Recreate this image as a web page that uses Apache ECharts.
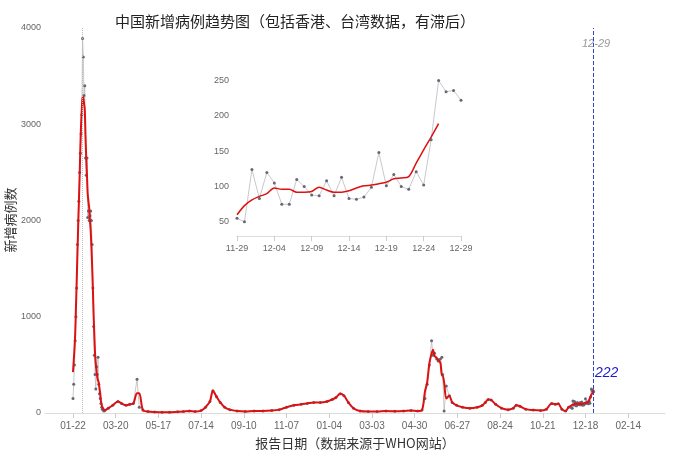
<!DOCTYPE html>
<html><head><meta charset="utf-8">
<script src="https://cdn.jsdelivr.net/npm/echarts@6/dist/echarts.min.js"></script>
<style>html,body{margin:0;padding:0;background:#fff}#c{width:677px;height:451px}</style>
</head><body><div id="c"></div>
<script>
const mainDates = [
"2020-01-22","2020-01-23","2020-01-24","2020-01-25","2020-01-26","2020-01-27","2020-01-28","2020-01-29","2020-01-30","2020-01-31",
"2020-02-01","2020-02-02","2020-02-03","2020-02-04","2020-02-05","2020-02-06","2020-02-07","2020-02-08","2020-02-09","2020-02-10",
"2020-02-11","2020-02-12","2020-02-13","2020-02-14","2020-02-15","2020-02-16","2020-02-17","2020-02-18","2020-02-19","2020-02-20",
"2020-02-21","2020-02-22","2020-02-23","2020-02-24","2020-02-25","2020-02-26","2020-02-27","2020-02-28","2020-02-29","2020-03-01",
"2020-03-02","2020-03-03","2020-03-04","2020-03-05",
"2020-03-10","2020-03-16","2020-03-23","2020-03-28","2020-04-03","2020-04-08","2020-04-13","2020-04-18","2020-04-21","2020-04-26",
"2020-05-03","2020-05-12","2020-05-22","2020-06-01","2020-06-12","2020-06-20","2020-06-28","2020-07-06","2020-07-14","2020-07-20",
"2020-07-26","2020-07-30","2020-08-04","2020-08-09","2020-08-15","2020-08-22","2020-09-01","2020-09-12","2020-09-24","2020-10-06",
"2020-10-18","2020-10-28","2020-11-07","2020-11-17","2020-11-27","2020-12-05","2020-12-14","2020-12-23","2021-01-01","2021-01-08",
"2021-01-13","2021-01-19","2021-01-24","2021-01-30","2021-02-06","2021-02-15","2021-02-26","2021-03-10","2021-03-22","2021-04-03",
"2021-04-15","2021-04-25","2021-05-04","2021-05-10","2021-05-14","2021-05-17","2021-05-20","2021-05-23","2021-05-25","2021-05-27",
"2021-05-30","2021-06-01","2021-06-04","2021-06-06","2021-06-07","2021-06-09","2021-06-12","2021-06-16","2021-06-20","2021-06-26",
"2021-07-04","2021-07-14","2021-07-24","2021-07-31","2021-08-04","2021-08-08","2021-08-12","2021-08-18","2021-08-26","2021-09-04",
"2021-09-11","2021-09-15","2021-09-20","2021-09-28","2021-10-08","2021-10-18","2021-10-26","2021-11-02","2021-11-07","2021-11-11",
"2021-11-16","2021-11-21","2021-11-25"
];
const mainValues = [
150,300,500,750,1000,1300,1750,2000,2200,2500,
2700,2900,3100,3890,3700,3300,3400,2650,2470,2650,
2030,2100,2000,2050,2100,2000,1750,1300,900,600,
400,250,480,400,580,300,200,150,100,60,
40,30,20,25,
50,80,120,100,80,90,100,350,60,30,
15,10,8,8,12,15,20,15,25,60,
120,230,170,110,60,35,20,15,20,20,
25,35,60,80,90,100,110,110,120,140,
160,200,180,110,50,20,15,15,20,18,
20,25,20,30,150,300,500,750,600,620,
560,540,560,580,400,20,280,180,110,80,
60,50,60,80,110,140,135,90,50,35,
50,80,70,40,30,25,40,100,90,95,
40,20,60
];
const insetDates = ["11-29","11-30","12-01","12-02","12-03","12-04","12-05","12-06","12-07","12-08","12-09","12-10","12-11","12-12","12-13","12-14","12-15","12-16","12-17","12-18","12-19","12-20","12-21","12-22","12-23","12-24","12-25","12-26","12-27","12-28","12-29"];
const insetValues = [55,50,124,83,120,105,75,75,110,100,88,87,108,87,113,83,82,85,99,148,101,117,100,96,121,102,166,250,234,236,222];
const insetTrend = [60,73,81,86,90,98,96,96,92,92,93,99,95,92,92,94,98,101,102,104,106,111,112,114,133,152,170,189];
const xTickLabels = ["01-22","03-20","05-17","07-14","09-10","11-07","01-04","03-03","04-30","06-27","08-24","10-21","12-18","02-14"];
const lastLabel = "222";
const lastDate = "12-29";

const DAY = 86400000;
const t0 = Date.UTC(2020,0,22);
function dayOf(s){const p=s.split('-');return Math.round((Date.UTC(+p[0],+p[1]-1,+p[2])-t0)/DAY);}
const allDates = mainDates.concat(insetDates.map(d=>"2021-"+d));
const allVals = mainValues.concat(insetValues);
const days = allDates.map(dayOf);
const rawPts = days.map((d,i)=>[d,allVals[i]]);
const smooth = days.map((d,i)=>{let s=0,n=0;for(let j=0;j<days.length;j++){if(Math.abs(days[j]-d)<=3){s+=allVals[j];n++;}}return [d,s/n];});
const tickVals = xTickLabels.map((l,i)=>i*58);
const lastDay = dayOf("2021-12-29");
const peakDay = days[allVals.indexOf(Math.max(...allVals))];

const chart = echarts.init(document.getElementById('c'));
const grey = '#666';
chart.setOption({
  animation:false,
  title:{text:'中国新增病例趋势图（包括香港、台湾数据，有滞后）',left:290,top:9,textAlign:'center',
    textStyle:{fontSize:15,fontWeight:'normal',color:'#222',fontFamily:'Noto Sans CJK SC'}},
  grid:[{left:45,right:12,top:28,bottom:38,outerBoundsMode:'none',containLabel:false},
        {left:237,top:72,width:224,height:164,outerBoundsMode:'none',containLabel:false}],
  xAxis:[{type:'value',gridIndex:0,min:-38,max:804,
      axisLine:{lineStyle:{color:'#ddd'}},splitLine:{show:false},
      axisTick:{customValues:tickVals,lineStyle:{color:'#ccc'}},
      axisLabel:{customValues:tickVals,color:grey,fontSize:10,formatter:v=>xTickLabels[Math.round(v/58)]},
      name:'报告日期（数据来源于WHO网站）',nameLocation:'middle',nameGap:24,
      nameTextStyle:{fontSize:13,color:'#333',fontFamily:'Noto Sans CJK SC'}},
    {type:'category',gridIndex:1,data:insetDates,boundaryGap:false,
      axisLine:{lineStyle:{color:'#ddd'}},axisTick:{interval:4,lineStyle:{color:'#ccc'}},
      axisLabel:{interval:4,color:grey,fontSize:9}}],
  yAxis:[{type:'value',gridIndex:0,min:0,max:4000,interval:1000,splitLine:{show:false},
      axisLine:{show:false},axisTick:{show:false},axisLabel:{color:grey,fontSize:9,margin:4,formatter:v=>String(v)}},
    {type:'value',gridIndex:1,min:30,max:262,interval:10,splitLine:{show:false},
      axisLine:{lineStyle:{color:'#ddd'}},axisTick:{show:false},
      axisLabel:{color:grey,fontSize:9,formatter:v=>(v%50===0?String(v):'')}}],
  series:[
    {type:'line',xAxisIndex:0,yAxisIndex:0,data:rawPts,symbol:'circle',symbolSize:3,
      lineStyle:{color:'#bbb',width:0.8},itemStyle:{color:'#667'},z:2,
      markLine:{silent:true,symbol:'none',label:{show:false},data:[
        {xAxis:peakDay,lineStyle:{color:'#bbb',type:'dotted',width:1}},
        {xAxis:lastDay,lineStyle:{color:'#3344cc',type:'dashed',width:1}}]}},
    {type:'line',xAxisIndex:0,yAxisIndex:0,data:smooth,symbol:'none',smooth:0.3,
      lineStyle:{color:'#dd1111',width:2},z:3},
    {type:'line',xAxisIndex:1,yAxisIndex:1,data:insetValues,symbol:'circle',symbolSize:3,
      lineStyle:{color:'#bbb',width:0.8},itemStyle:{color:'#667'}},
    {type:'line',xAxisIndex:1,yAxisIndex:1,data:insetTrend,symbol:'none',smooth:0.3,
      lineStyle:{color:'#dd1111',width:1.5}}
  ],
  graphic:[
    {type:'text',x:10,y:220,rotation:Math.PI/2,style:{text:'新增病例数',fill:'#333',fontSize:13,
      fontFamily:'Noto Sans CJK SC',align:'center',verticalAlign:'middle'}},
    {type:'text',left:582,top:38,style:{text:lastDate,fill:'#999',fontSize:11,fontStyle:'italic'}},
    {type:'text',left:595,top:366,style:{text:lastLabel,fill:'#1a1acc',fontSize:14,fontStyle:'italic'}}
  ]
});
</script></body></html>
